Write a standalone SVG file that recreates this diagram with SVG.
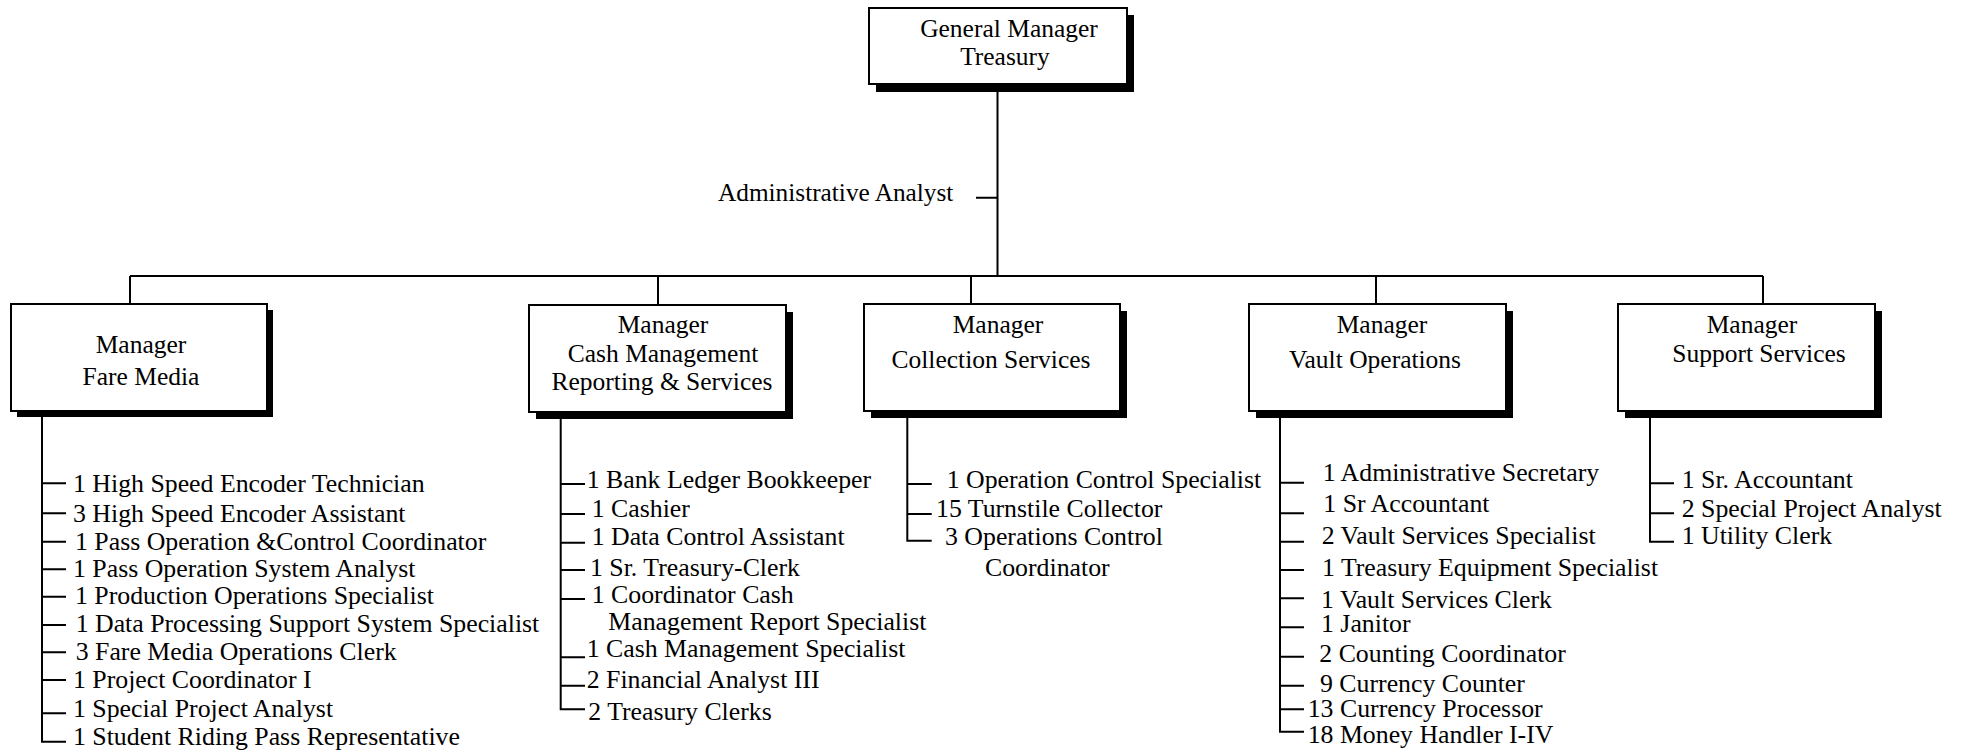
<svg xmlns="http://www.w3.org/2000/svg" width="1963" height="752" viewBox="0 0 1963 752">
<style>
.ln{stroke:#000;stroke-width:2;fill:none}
.box{fill:#fff;stroke:#000;stroke-width:2}
.sh{fill:#000}
.bt{font-family:"Liberation Serif","Times New Roman",serif;font-size:25.5px;fill:#000;text-anchor:middle}
.lt{font-family:"Liberation Serif","Times New Roman",serif;font-size:25.8px;fill:#000}
.at{font-family:"Liberation Serif","Times New Roman",serif;font-size:25.3px;fill:#000}
</style>
<rect width="1963" height="752" fill="#fff"/>
<g id="connectors">
<path class="ln" d="M997.5 84V276M976 197.7H997.5M130 276H1763M130 276V304M658 276V305M971 276V304M1376 276V304M1763 276V304"/>
<path class="ln" d="M42 411V741.7H66M42 483.3H66M42 513.3H66M42 541.7H66M42 569.3H66M42 596.7H66M42 625H66M42 652.3H66M42 680H66M42 713.3H66"/>
<path class="ln" d="M560.7 412V709.3H585M560.7 484H585M560.7 514H585M560.7 542.7H585M560.7 570H585M560.7 599H585M560.7 657.3H585M560.7 685.7H585"/>
<path class="ln" d="M907.3 411V540.7H931.7M907.3 484H931.7M907.3 514H931.7"/>
<path class="ln" d="M1280 411V731.7H1304M1280 482.7H1304M1280 513.3H1304M1280 541.7H1304M1280 570H1304M1280 598.3H1304M1280 627.3H1304M1280 656.7H1304M1280 685.7H1304M1280 709.3H1304"/>
<path class="ln" d="M1650 411V541.7H1674M1650 483.3H1674M1650 513.3H1674"/>
</g>
<g id="admin-analyst">
<text class="at" x="718" y="200.7">Administrative Analyst</text>
</g>
<g id="gm">
<rect class="sh" x="876" y="15" width="258" height="77"/>
<rect class="box" x="869" y="8" width="258" height="76"/>
<text class="bt" x="1009" y="37">General Manager</text>
<text class="bt" x="1005" y="65">Treasury</text>
</g>
<g id="fare-media">
<rect class="sh" x="17" y="310" width="256" height="107"/>
<rect class="box" x="11" y="304" width="256" height="107"/>
<text class="bt" x="141" y="353">Manager</text>
<text class="bt" x="141" y="385">Fare Media</text>
</g>
<g id="cash-management">
<rect class="sh" x="536" y="312" width="257" height="107"/>
<rect class="box" x="529" y="305" width="257" height="107"/>
<text class="bt" x="663" y="333">Manager</text>
<text class="bt" x="663" y="362">Cash Management</text>
<text class="bt" x="662" y="390">Reporting &amp; Services</text>
</g>
<g id="collection-services">
<rect class="sh" x="871" y="311" width="256" height="107"/>
<rect class="box" x="864" y="304" width="256" height="107"/>
<text class="bt" x="998" y="333">Manager</text>
<text class="bt" x="991" y="368">Collection Services</text>
</g>
<g id="vault-operations">
<rect class="sh" x="1256" y="311" width="257" height="107"/>
<rect class="box" x="1249" y="304" width="257" height="107"/>
<text class="bt" x="1382" y="333">Manager</text>
<text class="bt" x="1375" y="368">Vault Operations</text>
</g>
<g id="support-services">
<rect class="sh" x="1625" y="311" width="257" height="107"/>
<rect class="box" x="1618" y="304" width="257" height="107"/>
<text class="bt" x="1752" y="333">Manager</text>
<text class="bt" x="1759" y="362">Support Services</text>
</g>
<g id="fare-media-staff">
<text class="lt" x="73" y="491.7">1 High Speed Encoder Technician</text>
<text class="lt" x="73" y="521.7">3 High Speed Encoder Assistant</text>
<text class="lt" x="75" y="550">1 Pass Operation &amp;Control Coordinator</text>
<text class="lt" x="73" y="576.7">1 Pass Operation System Analyst</text>
<text class="lt" x="75" y="604.3">1 Production Operations Specialist</text>
<text class="lt" x="75.7" y="631.7">1 Data Processing Support System Specialist</text>
<text class="lt" x="75.7" y="660">3 Fare Media Operations Clerk</text>
<text class="lt" x="73" y="688.3">1 Project Coordinator I</text>
<text class="lt" x="73" y="716.7">1 Special Project Analyst</text>
<text class="lt" x="73" y="745">1 Student Riding Pass Representative</text>
</g>
<g id="cash-management-staff">
<text class="lt" x="586.7" y="488.3">1 Bank Ledger Bookkeeper</text>
<text class="lt" x="591.7" y="516.7">1 Cashier</text>
<text class="lt" x="591.7" y="545">1 Data Control Assistant</text>
<text class="lt" x="590" y="576">1 Sr. Treasury-Clerk</text>
<text class="lt" x="591.7" y="603.3">1 Coordinator Cash</text>
<text class="lt" x="608.3" y="630">Management Report Specialist</text>
<text class="lt" x="586.7" y="656.7">1 Cash Management Specialist</text>
<text class="lt" x="586.7" y="688.3">2 Financial Analyst III</text>
<text class="lt" x="588.3" y="720">2 Treasury Clerks</text>
</g>
<g id="collection-staff">
<text class="lt" x="946.7" y="488.3">1 Operation Control Specialist</text>
<text class="lt" x="936" y="516.7">15 Turnstile Collector</text>
<text class="lt" x="945" y="545">3 Operations Control</text>
<text class="lt" x="985" y="576">Coordinator</text>
</g>
<g id="vault-staff">
<text class="lt" x="1322.7" y="481">1 Administrative Secretary</text>
<text class="lt" x="1323.3" y="512.3">1 Sr Accountant</text>
<text class="lt" x="1321.7" y="544">2 Vault Services Specialist</text>
<text class="lt" x="1322" y="576">1 Treasury Equipment Specialist</text>
<text class="lt" x="1321" y="607.7">1 Vault Services Clerk</text>
<text class="lt" x="1321" y="631.7">1 Janitor</text>
<text class="lt" x="1319.3" y="661.7">2 Counting Coordinator</text>
<text class="lt" x="1320" y="691.7">9 Currency Counter</text>
<text class="lt" x="1307.7" y="716.7">13 Currency Processor</text>
<text class="lt" x="1307.7" y="743.3">18 Money Handler I-IV</text>
</g>
<g id="support-staff">
<text class="lt" x="1681.7" y="488.3">1 Sr. Accountant</text>
<text class="lt" x="1681.7" y="516.7">2 Special Project Analyst</text>
<text class="lt" x="1681.7" y="544">1 Utility Clerk</text>
</g>
</svg>
